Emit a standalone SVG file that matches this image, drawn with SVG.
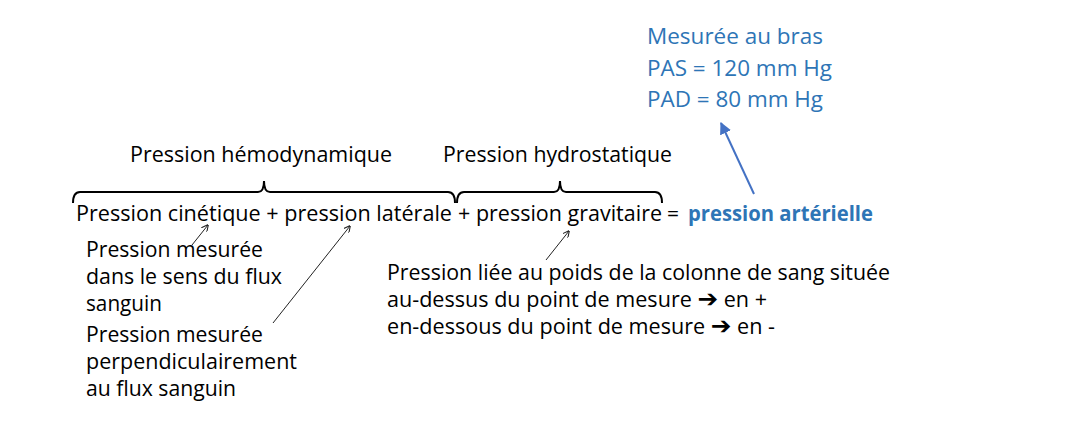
<svg xmlns="http://www.w3.org/2000/svg" width="1075" height="423" viewBox="0 0 1075 423">
<style>
text{font-family:"Open Sans","Noto Sans",sans-serif;font-size:21px;fill:#000}
.b{fill:#2E75B6}
.bold{font-weight:bold}
.brace{fill:none;stroke:#000;stroke-width:2}
.thin{stroke:#222;stroke-width:1;fill:none}
.ar{font-family:"DejaVu Sans",sans-serif;font-weight:bold;font-size:24px}
</style>
<defs>
<marker id="mh" viewBox="0 0 10 10" refX="9" refY="5" markerWidth="7" markerHeight="7" markerUnits="userSpaceOnUse" orient="auto">
<path d="M0,0 L10,5 L0,10" fill="none" stroke="#222" stroke-width="1.5"/>
</marker>
<marker id="mb" viewBox="0 0 10 10" refX="9" refY="5" markerWidth="12" markerHeight="12" markerUnits="userSpaceOnUse" orient="auto">
<path d="M0,0 L10,5 L0,10 Z" fill="#4472C4"/>
</marker>
</defs>
<rect width="1075" height="423" fill="#fff"/>
<g id="mesure">
<text class="b" x="647" y="44" textLength="176" lengthAdjust="spacingAndGlyphs">Mesurée au bras</text>
<text class="b" x="647" y="76" textLength="185" lengthAdjust="spacingAndGlyphs">PAS = 120 mm Hg</text>
<text class="b" x="647" y="107" textLength="176" lengthAdjust="spacingAndGlyphs">PAD = 80 mm Hg</text>
</g>
<g id="hemodynamique">
<text x="130" y="162" textLength="262" lengthAdjust="spacingAndGlyphs">Pression hémodynamique</text>
<path class="brace" d="M73,203 Q73,192 80,192 L258,192 Q264,192 264,181 Q264,192 270,192 L448,192 Q455,192 455,203"/>
</g>
<g id="hydrostatique">
<text x="443" y="162" textLength="229" lengthAdjust="spacingAndGlyphs">Pression hydrostatique</text>
<path class="brace" d="M457,203 Q457,192 464,192 L554,192 Q560,192 560,181 Q560,192 566,192 L655,192 Q662,192 662,203"/>
</g>
<g id="equation">
<text x="76" y="221" textLength="376" lengthAdjust="spacingAndGlyphs">Pression cinétique + pression latérale</text>
<text x="458" y="221" textLength="204" lengthAdjust="spacingAndGlyphs">+ pression gravitaire</text>
<text x="667" y="221">=</text>
<text class="b bold" x="688" y="221" textLength="185" lengthAdjust="spacingAndGlyphs">pression artérielle</text>
</g>
<g id="cinetique">
<text x="86" y="257" textLength="177" lengthAdjust="spacingAndGlyphs">Pression mesurée</text>
<text x="86" y="284" textLength="196" lengthAdjust="spacingAndGlyphs">dans le sens du flux</text>
<text x="86" y="311" textLength="76" lengthAdjust="spacingAndGlyphs">sanguin</text>
</g>
<g id="laterale">
<text x="86" y="342" textLength="177" lengthAdjust="spacingAndGlyphs">Pression mesurée</text>
<text x="86" y="369" textLength="211" lengthAdjust="spacingAndGlyphs">perpendiculairement</text>
<text x="86" y="396" textLength="150" lengthAdjust="spacingAndGlyphs">au flux sanguin</text>
</g>
<g id="gravitaire">
<text x="387" y="280" textLength="503" lengthAdjust="spacingAndGlyphs">Pression liée au poids de la colonne de sang située</text>
<text x="387" y="307" textLength="380" lengthAdjust="spacingAndGlyphs">au-dessus du point de mesure <tspan class="ar">➔</tspan> en +</text>
<text x="387" y="334" textLength="388" lengthAdjust="spacingAndGlyphs">en-dessous du point de mesure <tspan class="ar">➔</tspan> en -</text>
</g>
<g id="connectors">
<line class="thin" x1="192" y1="245" x2="208" y2="225" marker-end="url(#mh)"/>
<line class="thin" x1="273" y1="323" x2="350" y2="226" marker-end="url(#mh)"/>
<line class="thin" x1="546" y1="260" x2="569" y2="231" marker-end="url(#mh)"/>
<line x1="754" y1="194" x2="721" y2="123" stroke="#4472C4" stroke-width="2" marker-end="url(#mb)"/>
</g>
</svg>
